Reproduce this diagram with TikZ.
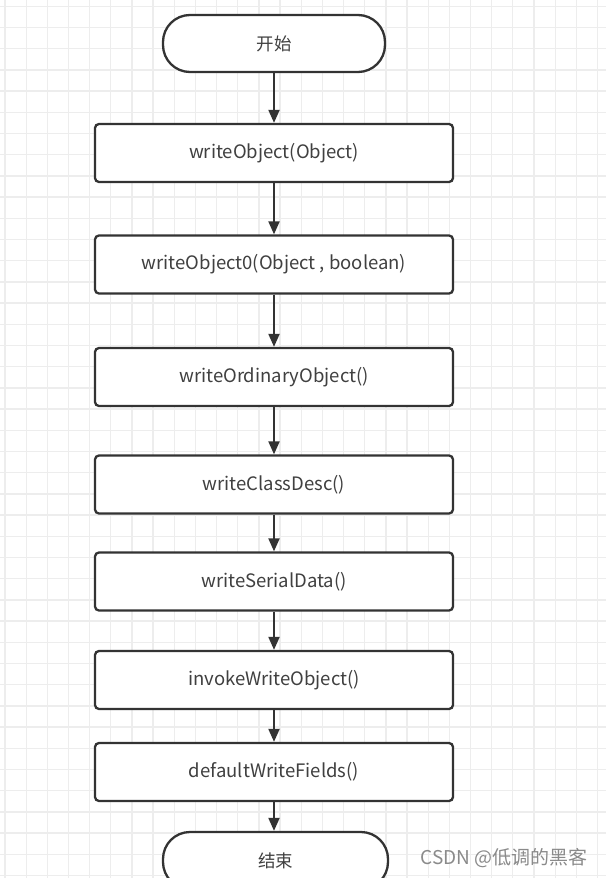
\documentclass[tikz,border=0pt]{standalone}
\usepackage{fontspec}
\setmainfont{Noto Sans CJK SC}
\usetikzlibrary{arrows.meta}
\definecolor{gridc}{HTML}{EDEDED}
\definecolor{linec}{HTML}{333333}
\definecolor{textc}{HTML}{404040}
\definecolor{markc}{HTML}{8A8A8A}
\tikzset{
  gridline/.style={draw=gridc, line width=1.3pt},
  procbox/.style={draw=linec, line width=2.3pt, rounded corners=4pt, fill=white,
    minimum width=358pt, minimum height=58pt, text=textc, font=\fontsize{18.5}{21}\selectfont, inner sep=0pt},
  termbox/.style={draw=linec, line width=2.3pt, rounded corners=27pt, fill=white,
    minimum width=222pt, minimum height=57pt, text=textc, font=\fontsize{17.5}{21}\selectfont, inner sep=0pt},
  flow/.style={draw=linec, line width=2pt, -{Triangle[length=13pt,width=11pt]}},
}
\begin{document}
\begin{tikzpicture}[x=1pt,y=-1pt]
\useasboundingbox (0,0) rectangle (606,878);
\clip (0,0) rectangle (606,878);
\fill[white] (0,0) rectangle (606,878);
\foreach \i in {0,...,28} {\draw[gridline] ({5+21.16*\i},0) -- ({5+21.16*\i},878);}
\foreach \j in {0,...,41} {\draw[gridline] (0,{6.3+21.2*\j}) -- (606,{6.3+21.2*\j});}

\node[termbox] (start) at (274,43.5) {开始};
\node[procbox] (b1) at (274,153) {writeObject(Object)};
\node[procbox] (b2) at (274,264.5) {writeObject0(Object , boolean)};
\node[procbox] (b3) at (274,377) {writeOrdinaryObject()};
\node[procbox] (b4) at (274,484.5) {writeClassDesc()};
\node[procbox] (b5) at (274,581.5) {writeSerialData()};
\node[procbox] (b6) at (274,680) {invokeWriteObject()};
\node[procbox] (b7) at (274,772) {defaultWriteFields()};
\node[termbox, minimum width=225pt] (end) at (275.5,860.5) {结束};

\draw[flow] (start) -- (b1);
\draw[flow] (b1) -- (b2);
\draw[flow] (b2) -- (b3);
\draw[flow] (b3) -- (b4);
\draw[flow] (b4) -- (b5);
\draw[flow] (b5) -- (b6);
\draw[flow] (b6) -- (b7);
\draw[flow] (b7.south) -- (b7.south |- end.north);

\node[text=markc, font=\fontsize{19}{22}\selectfont, anchor=east, inner sep=0pt] (mark) at (588,858) {CSDN @低调的黑客};
\end{tikzpicture}
\end{document}
